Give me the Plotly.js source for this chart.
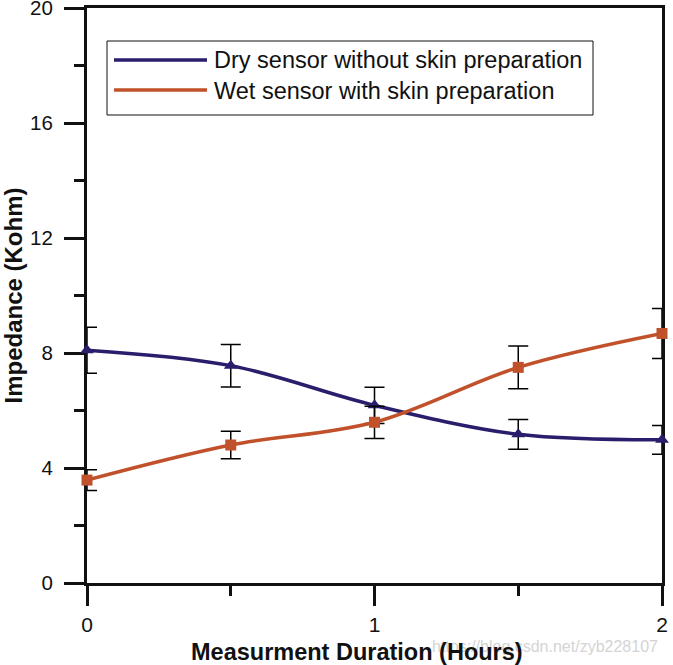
<!DOCTYPE html>
<html>
<head>
<meta charset="utf-8">
<script src="https://cdn.plot.ly/plotly-3.0.1.min.js"></script>
<style>html,body{margin:0;padding:0;background:#fff;}#chart{width:673px;height:665px;}</style>
</head>
<body>
<div id="chart"></div>
<script>
// Data
const hours = [0, 0.5, 1, 1.5, 2];
const dryValues = [8.1, 7.56, 6.18, 5.17, 4.98];
const dryErrors = [0.8, 0.74, 0.63, 0.52, 0.5];
const wetValues = [3.58, 4.8, 5.59, 7.5, 8.68];
const wetErrors = [0.36, 0.48, 0.56, 0.74, 0.87];
const seriesNames = ['Dry sensor without skin preparation', 'Wet sensor with skin preparation'];
const yTickVals = [0, 4, 8, 12, 16, 20];
const xTickVals = [0, 1, 2];
const xTitle = 'Measurment Duration (Hours)';
const yTitle = 'Impedance (Kohm)';

const dryColor = '#2a1e6c';
const wetColor = '#c0512a';
const font = '"Liberation Sans", Arial, sans-serif';

const traces = [
  {
    x: hours, y: dryValues, name: seriesNames[0], type: 'scatter', mode: 'lines+markers',
    line: {color: dryColor, width: 3.5, shape: 'spline', smoothing: 1},
    marker: {symbol: 'triangle-up', size: 12, color: dryColor},
    error_y: {type: 'data', array: dryErrors, visible: true, color: '#000', thickness: 1.5, width: 10},
    cliponaxis: false, showlegend: false
  },
  {
    x: hours, y: wetValues, name: seriesNames[1], type: 'scatter', mode: 'lines+markers',
    line: {color: wetColor, width: 3.5, shape: 'spline', smoothing: 1},
    marker: {symbol: 'square', size: 11, color: wetColor},
    error_y: {type: 'data', array: wetErrors, visible: true, color: '#000', thickness: 1.5, width: 10},
    cliponaxis: false, showlegend: false
  }
];

const px2x = p => (p - 87) / 575;
const py2y = p => (583 - p) / 575;

const layout = {
  width: 673, height: 665,
  margin: {l: 87, r: 11, t: 8, b: 82},
  paper_bgcolor: '#fff', plot_bgcolor: '#fff',
  font: {family: font, color: '#111', size: 20},
  showlegend: false,
  xaxis: {
    range: [0, 2], tickvals: xTickVals, ticktext: xTickVals.map(String),
    ticks: 'outside', ticklen: 20, tickwidth: 3, tickcolor: '#111',
    minor: {dtick: 0.5, tick0: 0, ticks: 'outside', ticklen: 10, tickwidth: 3, tickcolor: '#111'},
    showline: true, linewidth: 3, linecolor: '#111', mirror: true,
    showgrid: false, zeroline: false, layer: 'below traces',
    ticklabelstandoff: 1, ticklabeloverflow: 'allow',
    tickfont: {family: font, size: 21, color: '#111'}
  },
  yaxis: {
    range: [0, 20], tickvals: yTickVals, ticktext: yTickVals.map(String),
    ticks: 'outside', ticklen: 20, tickwidth: 3, tickcolor: '#111',
    minor: {dtick: 2, tick0: 0, ticks: 'outside', ticklen: 10, tickwidth: 3, tickcolor: '#111'},
    showline: true, linewidth: 3, linecolor: '#111', mirror: true,
    showgrid: false, zeroline: false, layer: 'below traces',
    ticklabelstandoff: 7, ticklabeloverflow: 'allow',
    tickfont: {family: font, size: 20.5, color: '#111'},
    title: {text: yTitle, font: {family: font, size: 24, color: '#111', weight: 'bold'}, standoff: 13}
  },
  shapes: [
    {type: 'rect', xref: 'paper', yref: 'paper', x0: px2x(107), x1: px2x(593), y0: py2y(115), y1: py2y(41),
     line: {color: '#111', width: 1}, fillcolor: '#fff', layer: 'above'},
    {type: 'line', xref: 'paper', yref: 'paper', x0: px2x(114), x1: px2x(207), y0: py2y(60), y1: py2y(60),
     line: {color: dryColor, width: 3.5}, layer: 'above'},
    {type: 'line', xref: 'paper', yref: 'paper', x0: px2x(114), x1: px2x(207), y0: py2y(90), y1: py2y(90),
     line: {color: wetColor, width: 3.5}, layer: 'above'}
  ],
  annotations: [
    {xref: 'paper', yref: 'paper', x: px2x(212), y: py2y(60), xanchor: 'left', yanchor: 'middle',
     text: seriesNames[0], showarrow: false, font: {family: font, size: 23.5, color: '#111'}},
    {xref: 'paper', yref: 'paper', x: px2x(212), y: py2y(91), xanchor: 'left', yanchor: 'middle',
     text: seriesNames[1], showarrow: false, font: {family: font, size: 23.5, color: '#111'}},
    {xref: 'paper', yref: 'paper', x: px2x(660), y: py2y(646), xanchor: 'right', yanchor: 'middle',
     text: 'https://blog.csdn.net/zyb228107', showarrow: false, font: {family: font, size: 16, color: '#d4d4d4'}},
    {xref: 'paper', yref: 'paper', x: px2x(357), y: py2y(652), xanchor: 'center', yanchor: 'middle',
     text: '<b>' + xTitle + '</b>', showarrow: false, font: {family: font, size: 23.5, color: '#111'}}
  ]
};

Plotly.newPlot('chart', traces, layout, {displayModeBar: false, staticPlot: true});
</script>
</body>
</html>
